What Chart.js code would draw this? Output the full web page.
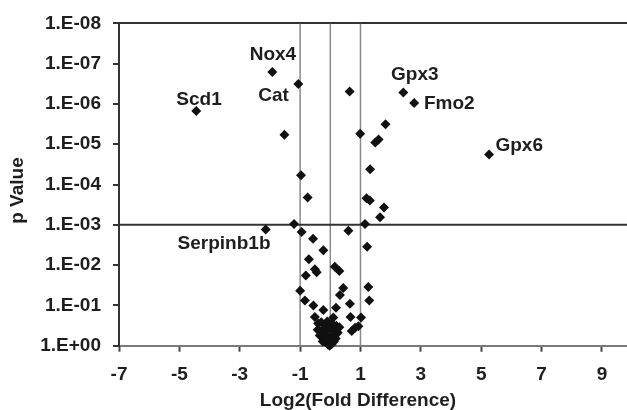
<!DOCTYPE html>
<html>
<head>
<meta charset="utf-8">
<script src="https://cdn.jsdelivr.net/npm/chart.js@4.4.0/dist/chart.umd.min.js"></script>
<style>
  html, body { margin: 0; padding: 0; background: #fff; }
  canvas { display: block; }
</style>
</head>
<body>
<canvas id="volcano" width="627" height="410"></canvas>
<script>
// log2 fold difference and p value of each gene
const foldDiff = [
  -1.92, -1.06, -4.44, -1.52, -0.97, -0.75, 0.64, 2.42, 2.78, 1.83,
  0.99, 1.49, 1.60, 5.26, 1.32, 1.20, 1.31, 1.78, 1.65, 1.15,
  0.60, -0.95, -1.20, -2.14, -0.57, -0.23, 1.22, -0.71, -0.81, -0.51,
  -0.45, 0.15, 0.30, -1.00, 0.43, 0.32, 1.26, 1.29, -0.84, -0.56,
  0.65, -0.23, 0.19, -0.51, 0.67, 1.02, 0.10, 0.82, 0.93, 0.71,
  -0.40, -0.30, -0.20, -0.10, 0.05, 0.20, 0.30,
  -0.42, -0.32, -0.22, -0.12, 0.00, 0.12, 0.25,
  -0.35, -0.25, -0.15, -0.05, 0.08, 0.18,
  -0.25, -0.12, 0.00, 0.12,
  -0.08, 0.05, -0.02
]
const pValues = [
  1.6e-7, 3.2e-7, 1.5e-6, 5.8e-6, 5.9e-5, 2.1e-4, 4.9e-7, 5.2e-7, 9.5e-7, 3.2e-6,
  5.5e-6, 9.1e-6, 7.6e-6, 1.8e-5, 4.2e-5, 2.2e-4, 2.5e-4, 3.7e-4, 6.5e-4, 9.5e-4,
  1.4e-3, 1.5e-3, 9.5e-4, 1.3e-3, 2.2e-3, 4.3e-3, 3.5e-3, 7.1e-3, 1.8e-2, 1.26e-2,
  1.5e-2, 1.1e-2, 1.4e-2, 4.3e-2, 3.7e-2, 5.5e-2, 3.5e-2, 7.6e-2, 7.6e-2, 0.10,
  9.1e-2, 0.13, 0.115, 0.195, 0.195, 0.20, 0.20, 0.36, 0.33, 0.43,
  0.28, 0.26, 0.30, 0.25, 0.28, 0.32, 0.35,
  0.40, 0.45, 0.38, 0.42, 0.36, 0.44, 0.48,
  0.56, 0.63, 0.54, 0.60, 0.56, 0.66,
  0.79, 0.76, 0.83, 0.79,
  0.93, 0.91, 1.0
]

// gene name labels, placed in data space
const geneNames = ['Nox4', 'Cat', 'Scd1', 'Gpx3', 'Fmo2', 'Gpx6', 'Serpinb1b']
const geneLabelX = [-1.90, -1.88, -4.35, 2.80, 3.94, 6.26, -3.52]
const geneLabelP = [6.0e-8, 6.2e-7, 7.8e-7, 1.9e-7, 1.0e-6, 1.07e-5, 2.96e-3]

const xTicks = [-7, -5, -3, -1, 1, 3, 5, 7, 9]
const yTicks = [1e-8, 1e-7, 1e-6, 1e-5, 1e-4, 1e-3, 1e-2, 1e-1, 1]
const foldCutoffs = [-1, 0, 1]
const pCutoff = 1e-3
const xMin = -7
const xMax = 9.83

const FONT = '"Liberation Sans", Arial, sans-serif'
const TEXT = '#1e1e1e'

function sciLabel(v) {
  const e = Math.round(Math.log10(v))
  return '1.E' + (e < 0 ? '-' : '+') + String(Math.abs(e)).padStart(2, '0')
}

let points = foldDiff.map((x, i) => ({ x: x, y: pValues[i] }))

let datasets = [{
  label: 'genes',
  data: points,
  pointStyle: 'rectRot',
  pointRadius: 5,
  pointBackgroundColor: '#111',
  pointBorderColor: '#111',
  pointBorderWidth: 0,
  clip: false,
  order: 0
}]

// vertical cut-off lines at fold difference -1, 0 and 1
foldCutoffs.forEach((f) => {
  datasets.push({
    label: 'fold ' + f,
    data: [{ x: f, y: yTicks[0] }, { x: f, y: yTicks[yTicks.length - 1] }],
    showLine: true,
    pointRadius: 0,
    borderColor: '#8a8a8a',
    borderWidth: 1.5,
    order: 2
  })
})

// horizontal p value cut-off
datasets.push({
  label: 'p cutoff',
  data: [{ x: xMin, y: pCutoff }, { x: xMax, y: pCutoff }],
  showLine: true,
  pointRadius: 0,
  borderColor: '#333',
  borderWidth: 2,
  order: 1
})

const geneLabels = {
  id: 'geneLabels',
  afterDatasetsDraw(chart) {
    const ctx = chart.ctx
    const xs = chart.scales.x
    const ys = chart.scales.y
    ctx.save()
    ctx.font = 'bold 19px ' + FONT
    ctx.fillStyle = TEXT
    ctx.textAlign = 'center'
    ctx.textBaseline = 'middle'
    for (let i = 0; i < geneNames.length; i++) {
      ctx.fillText(geneNames[i], xs.getPixelForValue(geneLabelX[i]), ys.getPixelForValue(geneLabelP[i]))
    }
    // axis titles
    const area = chart.chartArea
    ctx.fillText('Log2(Fold Difference)', (area.left + area.right) / 2 - 15, chart.height - 9)
    ctx.translate(18, (area.top + area.bottom) / 2 + 6)
    ctx.rotate(-Math.PI / 2)
    ctx.fillText('p Value', 0, 0)
    ctx.restore()
  }
}

new Chart(document.getElementById('volcano'), {
  type: 'scatter',
  data: { datasets: datasets },
  plugins: [geneLabels],
  options: {
    responsive: false,
    animation: false,
    layout: {
      autoPadding: false,
      padding: { top: 20, left: 0, right: 0, bottom: 0 }
    },
    plugins: {
      legend: { display: false },
      tooltip: { enabled: false }
    },
    scales: {
      x: {
        type: 'linear',
        min: xMin,
        max: xMax,
        afterBuildTicks: (scale) => {
          scale.ticks = xTicks.map((v) => ({ value: v }))
        },
        afterFit: (scale) => {
          scale.height = 64.3
          scale.paddingLeft = 0
          scale.paddingRight = 0
        },
        border: { display: true, color: '#7a7a7a', width: 2 },
        grid: {
          display: true,
          drawOnChartArea: false,
          drawTicks: true,
          tickLength: 6,
          tickColor: '#444',
          tickWidth: 2
        },
        ticks: {
          padding: 12,
          color: TEXT,
          font: { family: FONT, size: 19, weight: 'bold' },
          callback: (v) => String(v)
        }
      },
      y: {
        type: 'logarithmic',
        min: yTicks[0],
        max: yTicks[yTicks.length - 1],
        reverse: true,
        afterBuildTicks: (scale) => {
          scale.ticks = yTicks.map((v) => ({ value: v }))
        },
        afterFit: (scale) => {
          scale.width = 119
        },
        border: { display: true, color: '#333', width: 2 },
        grid: {
          display: true,
          drawOnChartArea: true,
          color: (c) => (c.tick && c.tick.value === yTicks[0] ? '#333' : 'rgba(0,0,0,0)'),
          lineWidth: 2,
          drawTicks: true,
          tickLength: 6,
          tickColor: '#333',
          tickWidth: 2
        },
        ticks: {
          padding: 12,
          color: TEXT,
          font: { family: FONT, size: 19, weight: 'bold' },
          callback: (v) => sciLabel(v)
        }
      }
    }
  }
})
</script>
</body>
</html>
